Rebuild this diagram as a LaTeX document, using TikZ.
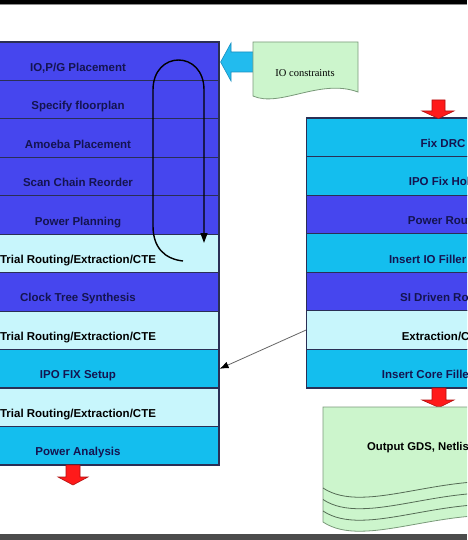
\documentclass[tikz,border=0pt]{standalone}
\usepackage{fontspec}
\setmainfont{Liberation Sans}
\newfontfamily\serifio{Liberation Serif}
\usetikzlibrary{arrows.meta,calc}
\definecolor{rowblue}{HTML}{4646EE}
\definecolor{rowcyan}{HTML}{14BEEE}
\definecolor{rowlight}{HTML}{C8F6FC}
\definecolor{rowline}{HTML}{2A2F55}
\definecolor{txt}{HTML}{141450}
\definecolor{docgreen}{HTML}{CCF5CC}
\definecolor{docline}{HTML}{7A9A7A}
\definecolor{redfill}{HTML}{FF1A1A}
\definecolor{redline}{HTML}{B01010}
\definecolor{arrowcyan}{HTML}{22BBEE}
\definecolor{arrowcyanline}{HTML}{1A8FC0}
\begin{document}
\begin{tikzpicture}[x=1pt,y=-1pt,
  rowbase/.style={draw=rowline, line width=1.2pt, inner sep=0pt, text=txt,
    text height=20pt, text depth=0pt,
    font=\fontsize{11.5}{13}\selectfont\bfseries},
  lrow/.style={rowbase, minimum width=282pt, minimum height=38.45pt},
  rrow/.style={rowbase, minimum width=273pt, minimum height=38.57pt},
  fb/.style={fill=rowblue}, fc/.style={fill=rowcyan}, fl/.style={fill=rowlight, text=black},
  loopline/.style={line width=1.4pt, black, -{Triangle[length=10pt,width=7pt]}},
  blockblue/.style={fill=arrowcyan, draw=arrowcyanline, line width=0.6pt},
  blockred/.style={fill=redfill, draw=redline, line width=0.6pt},
  docshape/.style={fill=docgreen, draw=docline, line width=0.8pt},
  thinarrow/.style={draw=black!60, line width=0.8pt, -{Latex[length=9pt,width=7pt,color=black]}},
  lbl/.style={inner sep=0pt, font=\fontsize{11.3}{13}\selectfont\bfseries, text=black}
]
\useasboundingbox (0,0) rectangle (467,540);
\clip (0,0) rectangle (467,540);
\fill[white] (0,0) rectangle (467,540);

% left column
\node[lrow,fb] (l1)  at (78,61.2)  {IO,P/G Placement};
\node[lrow,fb] (l2)  at (78,99.7)  {Specify floorplan};
\node[lrow,fb] (l3)  at (78,138.1) {Amoeba Placement};
\node[lrow,fb] (l4)  at (78,176.6) {Scan Chain Reorder};
\node[lrow,fb] (l5)  at (78,215.0) {Power Planning};
\node[lrow,fl] (l6)  at (78,253.5) {Trial Routing/Extraction/CTE};
\node[lrow,fb] (l7)  at (78,291.9) {Clock Tree Synthesis};
\node[lrow,fl] (l8)  at (78,330.4) {Trial Routing/Extraction/CTE};
\node[lrow,fc] (l9)  at (78,368.8) {IPO FIX Setup};
\node[lrow,fl] (l10) at (78,407.3) {Trial Routing/Extraction/CTE};
\node[lrow,fc] (l11) at (78,445.8) {Power Analysis};

% right column
\node[rrow,fc] (r1) at (443,137.3) {Fix DRC};
\node[rrow,fc] (r2) at (443,175.9) {IPO Fix Hold};
\node[rrow,fb] (r3) at (443,214.4) {Power Route};
\node[rrow,fc] (r4) at (443,253.0) {Insert IO Filler Cells};
\node[rrow,fb] (r5) at (443,291.6) {SI Driven Route};
\node[rrow,fl] (r6) at (443,330.1) {Extraction/CTE};
\node[rrow,fc] (r7) at (443,368.7) {Insert Core Filler Cells};

% loop arrow inside left column
\coordinate (loopstart) at (183,261);
\coordinate (loopend) at (204,243);
\draw[loopline] (loopstart) .. controls (165,259) and (153,248) .. (153,226)
  -- (153,90) .. controls (153,50) and (204,50) .. (204,90) -- (loopend);

% blue block arrow from IO constraints
\draw[blockblue] (l1.east) ++(1,0.8) -- (231,43) -- (231,52) -- (256,52)
  -- (256,72) -- (231,72) -- (231,81) -- cycle;

% IO constraints document
\draw[docshape] (253,42) -- (358,42) -- (358,92)
  .. controls (320,78) and (280,108) .. (253,96) -- cycle;
\node[inner sep=0pt, font=\serifio\fontsize{10.5}{12}\selectfont] (io) at (305,73) {IO constraints};

% red block arrows
\draw[blockred] (432,100) -- (445,100) -- (445,111) -- (454,111) -- (438.5,118.5)
  -- (422,111) -- (432,111) -- cycle;
\draw[blockred] (432,388) -- (446,388) -- (446,400) -- (454,400) -- (439,407.5)
  -- (422,400) -- (432,400) -- cycle;
\draw[blockred] (66,465) -- (80,465) -- (80,477) -- (88,477) -- (73,485)
  -- (58,477) -- (66,477) -- cycle;

% output document (stacked)
\draw[docshape] (323,407) -- (525,407) -- (525,518)
  .. controls (445,504) and (365,550) .. (323,522) -- cycle;
\foreach \yy in {488,499.5,511}{
  \draw[docline!70!black, line width=0.8pt] (323,\yy) .. controls (365,\yy+28) and (445,\yy-18) .. (525,\yy-4);
}
\node[lbl, anchor=west] (out) at (367,448) {Output GDS, Netlist};

% thin arrow from right column to left column
\draw[thinarrow] (r6.west) -- (l9.east);

% frame bars
\fill[black] (0,0) rectangle (467,4);
\fill[black!45] (0,4) rectangle (467,5.5);
\fill[black!70] (0,533.5) rectangle (467,540);
\end{tikzpicture}
\end{document}
